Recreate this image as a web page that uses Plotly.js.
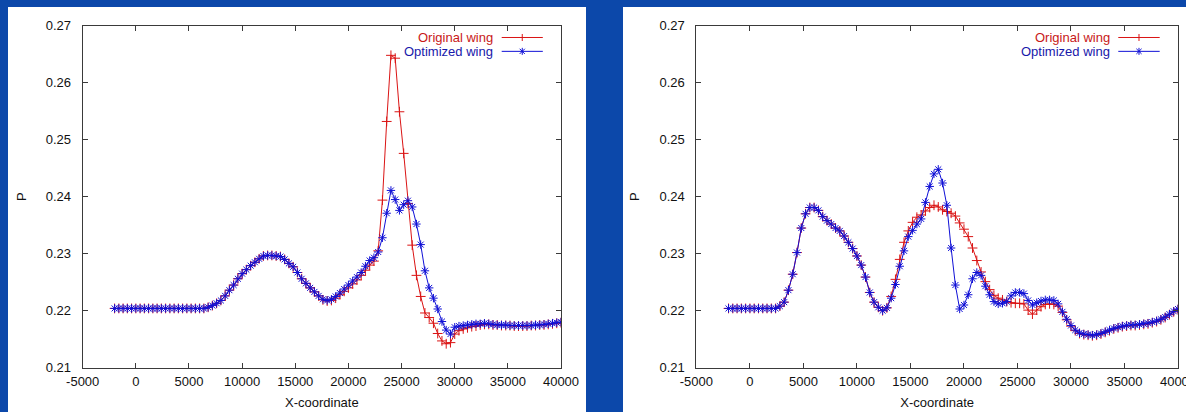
<!DOCTYPE html>
<html>
<head>
<meta charset="utf-8">
<script src="https://cdn.plot.ly/plotly-3.0.1.min.js"></script>
<style>
  html, body { margin: 0; padding: 0; background: #0c48aa; }
  #chart { width: 1186px; height: 412px; }
</style>
</head>
<body>
<div id="chart"></div>
<script>
// ---------- data ----------
const xCoord = [
  -2000,-1600,-1200,-800,-400,0,400,800,1200,1600,
  2000,2400,2800,3200,3600,4000,4400,4800,5200,5600,
  6000,6400,6800,7200,7600,8000,8400,8800,9200,9600,
  10000,10400,10800,11200,11600,12000,12400,12800,13200,13600,
  14000,14400,14800,15200,15600,16000,16400,16800,17200,17600,
  18000,18400,18800,19200,19600,20000,20400,20800,21200,21600,
  22000,22400,22800,23200,23600,24000,24400,24800,25200,25600,
  26000,26400,26800,27200,27600,28000,28400,28800,29200,29600,
  30000,30400,30800,31200,31600,32000,32400,32800,33200,33600,
  34000,34400,34800,35200,35600,36000,36400,36800,37200,37600,
  38000,38400,38800,39200,39600,40000
];

const leftOriginal = [
  0.2204,0.2204,0.2204,0.2204,0.2204,0.2204,0.2204,0.2204,0.2204,0.2204,
  0.2204,0.2204,0.2204,0.2204,0.2204,0.2204,0.2204,0.2204,0.2204,0.2204,
  0.2204,0.2204,0.2206,0.2209,0.2213,0.2218,0.2226,0.2236,0.2245,0.2256,
  0.2265,0.2272,0.2279,0.2285,0.2291,0.2296,0.2297,0.2297,0.2296,0.2295,
  0.2290,0.2283,0.2277,0.2267,0.2256,0.2248,0.2240,0.2233,0.2226,0.2219,
  0.2217,0.2218,0.2222,0.2228,0.2234,0.2240,0.2247,0.2254,0.2262,0.2271,
  0.2280,0.2287,0.2305,0.2394,0.2532,0.2648,0.2643,0.2549,0.2476,0.2388,
  0.2315,0.2262,0.2225,0.2196,0.2188,0.2178,0.2160,0.2147,0.2142,0.2144,
  0.2159,0.2165,0.2168,0.2170,0.2172,0.2173,0.2175,0.2176,0.2176,0.2175,
  0.2175,0.2174,0.2174,0.2174,0.2173,0.2173,0.2173,0.2173,0.2174,0.2174,
  0.2175,0.2175,0.2176,0.2177,0.2178,0.2179
];
const leftOptimized = [
  0.2204,0.2204,0.2204,0.2204,0.2204,0.2204,0.2204,0.2204,0.2204,0.2204,
  0.2204,0.2204,0.2204,0.2204,0.2204,0.2204,0.2204,0.2204,0.2204,0.2204,
  0.2204,0.2204,0.2206,0.2209,0.2213,0.2218,0.2226,0.2236,0.2245,0.2256,
  0.2265,0.2272,0.2279,0.2285,0.2291,0.2296,0.2297,0.2297,0.2296,0.2295,
  0.2290,0.2283,0.2277,0.2267,0.2256,0.2248,0.2240,0.2233,0.2226,0.2220,
  0.2218,0.2220,0.2225,0.2231,0.2238,0.2245,0.2252,0.2259,0.2267,0.2278,
  0.2288,0.2293,0.2303,0.2328,0.2371,0.2411,0.2395,0.2376,0.2386,0.2393,
  0.2382,0.2352,0.2316,0.2270,0.2240,0.2222,0.2203,0.2181,0.2166,0.2159,
  0.2171,0.2173,0.2174,0.2175,0.2176,0.2177,0.2177,0.2178,0.2177,0.2176,
  0.2175,0.2175,0.2175,0.2174,0.2174,0.2174,0.2174,0.2174,0.2174,0.2175,
  0.2175,0.2176,0.2177,0.2178,0.2179,0.2180
];

const rightOriginal = [
  0.2204,0.2204,0.2204,0.2204,0.2204,0.2204,0.2204,0.2204,0.2204,0.2204,
  0.2204,0.2204,0.2208,0.2215,0.2236,0.2264,0.2302,0.2345,0.2370,0.2381,
  0.2381,0.2376,0.2365,0.2358,0.2352,0.2345,0.2340,0.2331,0.2320,0.2309,
  0.2296,0.2280,0.2259,0.2232,0.2215,0.2206,0.2200,0.2205,0.2225,0.2255,
  0.2290,0.2320,0.2340,0.2355,0.2364,0.2368,0.2375,0.2381,0.2385,0.2382,
  0.2377,0.2374,0.2371,0.2366,0.2354,0.2343,0.2330,0.2310,0.2288,0.2268,
  0.2251,0.2237,0.2227,0.2222,0.2219,0.2216,0.2214,0.2213,0.2213,0.2212,
  0.2201,0.2194,0.2201,0.2207,0.2211,0.2212,0.2211,0.2208,0.2197,0.2184,
  0.2173,0.2165,0.2160,0.2158,0.2157,0.2156,0.2157,0.2159,0.2162,0.2165,
  0.2168,0.2170,0.2172,0.2173,0.2174,0.2174,0.2175,0.2176,0.2177,0.2179,
  0.2181,0.2184,0.2188,0.2193,0.2198,0.2202
];
const rightOptimized = [
  0.2204,0.2204,0.2204,0.2204,0.2204,0.2204,0.2204,0.2204,0.2204,0.2204,
  0.2204,0.2204,0.2208,0.2215,0.2236,0.2264,0.2302,0.2345,0.2370,0.2381,
  0.2381,0.2376,0.2365,0.2358,0.2352,0.2345,0.2340,0.2331,0.2320,0.2309,
  0.2296,0.2280,0.2259,0.2232,0.2215,0.2206,0.2200,0.2205,0.2222,0.2246,
  0.2278,0.2305,0.2330,0.2341,0.2352,0.2361,0.2390,0.2418,0.2440,0.2448,
  0.2424,0.2385,0.2310,0.2245,0.2203,0.2210,0.2228,0.2256,0.2267,0.2262,
  0.2243,0.2228,0.2216,0.2212,0.2213,0.2216,0.2226,0.2232,0.2232,0.2230,
  0.2218,0.2210,0.2214,0.2217,0.2219,0.2219,0.2218,0.2212,0.2198,0.2185,
  0.2174,0.2166,0.2161,0.2159,0.2158,0.2157,0.2158,0.2160,0.2163,0.2166,
  0.2169,0.2171,0.2173,0.2174,0.2175,0.2175,0.2176,0.2177,0.2178,0.2180,
  0.2182,0.2185,0.2189,0.2194,0.2199,0.2203
];

const seriesNames = ["Original wing", "Optimized wing"];
const xTicks = [-5000, 0, 5000, 10000, 15000, 20000, 25000, 30000, 35000, 40000];
const yTicks = [0.21, 0.22, 0.23, 0.24, 0.25, 0.26, 0.27];
const yTickText = ["0.21", "0.22", "0.23", "0.24", "0.25", "0.26", "0.27"];
const xTitle = "X-coordinate";
const yTitle = "P";

// ---------- styling ----------
const W = 1186, H = 412;
const RED = "rgb(218,20,20)";
const BLUE = "rgb(16,16,214)";
const FONT = "Liberation Sans, Arial, sans-serif";
const FRAME = "#3a3a3a";

const px = v => v / W;          // pixel x -> paper
const py = v => 1 - v / H;      // pixel y -> paper

function trace(x, y, name, color, symbol, xa, ya) {
  return {
    type: "scatter", mode: "lines+markers", x: x, y: y, name: name,
    xaxis: xa, yaxis: ya, showlegend: false, cliponaxis: true,
    line: { color: color, width: 1 },
    marker: { symbol: symbol, size: 7, color: color, line: { color: color, width: 1 } },
    hoverinfo: "skip"
  };
}

const data = [
  trace(xCoord, leftOriginal, seriesNames[0], RED, "cross-thin-open", "x", "y"),
  trace(xCoord, leftOptimized, seriesNames[1], BLUE, "asterisk-open", "x", "y"),
  trace(xCoord, rightOriginal, seriesNames[0], RED, "cross-thin-open", "x2", "y2"),
  trace(xCoord, rightOptimized, seriesNames[1], BLUE, "asterisk-open", "x2", "y2")
];

const yDom = [py(367.7), py(25.7)];

function xAxis(domain, anchor) {
  return {
    domain: domain, anchor: anchor, range: [-5000, 40000],
    tickmode: "array", tickvals: xTicks, ticktext: xTicks.map(String),
    ticks: "inside", ticklen: 5, tickwidth: 1, tickcolor: FRAME,
    showline: true, linecolor: FRAME, linewidth: 1, mirror: "ticks",
    showgrid: false, zeroline: false,
    tickfont: { family: FONT, size: 13, color: "#111" },
    ticklabelstandoff: 2, ticklabeloverflow: "allow",
    title: { text: xTitle, font: { family: FONT, size: 13, color: "#111" }, standoff: 9 },
    automargin: false, fixedrange: true
  };
}
function yAxis(anchor) {
  return {
    domain: yDom, anchor: anchor, range: [0.21, 0.27],
    tickmode: "array", tickvals: yTicks, ticktext: yTickText,
    ticks: "inside", ticklen: 5, tickwidth: 1, tickcolor: FRAME,
    showline: true, linecolor: FRAME, linewidth: 1, mirror: "ticks",
    showgrid: false, zeroline: false,
    tickfont: { family: FONT, size: 13, color: "#111" },
    ticklabelstandoff: 8,
    title: { text: yTitle, font: { family: FONT, size: 13, color: "#111" }, standoff: 16 },
    automargin: false, fixedrange: true
  };
}

// legend built from annotations + shapes (text on the left, sample on the right)
const annotations = [];
const shapes = [
  { type: "rect", xref: "paper", yref: "paper", x0: px(8), x1: px(586), y0: -0.01, y1: py(7),
    fillcolor: "#ffffff", line: { width: 0 }, layer: "below" },
  { type: "rect", xref: "paper", yref: "paper", x0: px(623), x1: 1.01, y0: -0.01, y1: py(7),
    fillcolor: "#ffffff", line: { width: 0 }, layer: "below" }
];
const legRows = [0.9655, 0.925];
const legColors = [RED, BLUE];
const legText = ["rgb(200,24,24)", "rgb(24,24,170)"];
[["x", "y", 478.3], ["x2", "y2", 481.6]].forEach(([xa, ya, wpx]) => {
  const xr = xa + " domain", yr = ya + " domain";
  const hx = 3.5 / wpx, hy = 3.5 / 342, dx = 2.6 / wpx, dy = 2.6 / 342;
  seriesNames.forEach((nm, i) => {
    const yy = legRows[i];
    annotations.push({ xref: xr, yref: yr, x: 0.862, y: yy, xanchor: "right", yanchor: "middle",
      text: nm, showarrow: false, font: { family: FONT, size: 13, color: legText[i] } });
    shapes.push({ type: "line", xref: xr, yref: yr, x0: 0.876, x1: 0.962, y0: yy, y1: yy,
      line: { color: legColors[i], width: 1 } });
    const cx = 0.919;
    shapes.push({ type: "line", xref: xr, yref: yr, x0: cx, x1: cx, y0: yy - hy, y1: yy + hy,
      line: { color: legColors[i], width: 1 } });
    if (i === 1) {
      shapes.push({ type: "line", xref: xr, yref: yr, x0: cx - dx, x1: cx + dx, y0: yy - dy, y1: yy + dy,
        line: { color: legColors[i], width: 1 } });
      shapes.push({ type: "line", xref: xr, yref: yr, x0: cx - dx, x1: cx + dx, y0: yy + dy, y1: yy - dy,
        line: { color: legColors[i], width: 1 } });
    }
  });
});

const layout = {
  width: W, height: H,
  margin: { l: 0, r: 0, t: 0, b: 0, pad: 0 },
  paper_bgcolor: "#0c48aa", plot_bgcolor: "#ffffff",
  showlegend: false,
  xaxis: xAxis([px(82.7), px(561)], "y"),
  yaxis: yAxis("x"),
  xaxis2: xAxis([px(696.4), px(1178)], "y2"),
  yaxis2: yAxis("x2"),
  shapes: shapes,
  annotations: annotations
};

Plotly.newPlot("chart", data, layout, { staticPlot: true, displayModeBar: false });
</script>
</body>
</html>
